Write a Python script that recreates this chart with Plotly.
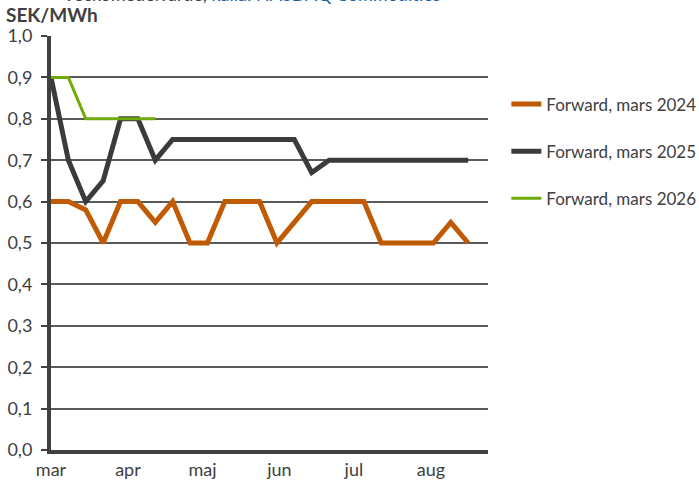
import pandas as pd
import plotly.graph_objects as go

# Weekly forward prices, SEK/MWh
weeks = pd.date_range("2023-03-01", periods=25, freq="7D")

fwd_2024 = [0.60, 0.60, 0.58, 0.50, 0.60, 0.60, 0.55, 0.60, 0.50, 0.50,
            0.60, 0.60, 0.60, 0.50, 0.55, 0.60, 0.60, 0.60, 0.60, 0.50,
            0.50, 0.50, 0.50, 0.55, 0.50]
fwd_2025 = [0.90, 0.70, 0.60, 0.65, 0.80, 0.80, 0.70, 0.75, 0.75, 0.75,
            0.75, 0.75, 0.75, 0.75, 0.75, 0.67, 0.70, 0.70, 0.70, 0.70,
            0.70, 0.70, 0.70, 0.70, 0.70]
fwd_2026 = [0.90, 0.90, 0.80, 0.80, 0.80, 0.80, 0.80]

series_names = ["Forward, mars 2024", "Forward, mars 2025", "Forward, mars 2026"]
series_colors = ["#C05A05", "#3B3B3B", "#6EAA0A"]
series_widths = [5, 5, 3]

month_ticks = pd.date_range("2023-03-01", periods=6, freq="MS")
month_labels = ["mar", "apr", "maj", "jun", "jul", "aug"]

FONT = "Lato"
TXT = "#404040"

fig = go.Figure()
for i, (name, vals) in enumerate(zip(series_names, [fwd_2024, fwd_2025, fwd_2026])):
    fig.add_trace(go.Scatter(
        x=weeks[:len(vals)], y=vals, mode="lines", name=name,
        legendgroup=name,
        line=dict(color=series_colors[i], width=series_widths[i]),
    ))

fig.update_layout(
    width=699, height=488,
    margin=dict(l=51, r=211, t=36, b=38, autoexpand=False),
    paper_bgcolor="white", plot_bgcolor="white",
    separators=",.",
    font=dict(family=FONT, color=TXT, size=18),
    showlegend=True,
    legend=dict(
        x=1.042, y=0.878, xanchor="left", yanchor="top",
        font=dict(family=FONT, size=17, color=TXT),
        traceorder="grouped", tracegroupgap=22,
        bgcolor="rgba(0,0,0,0)",
    ),
    xaxis=dict(
        range=[pd.Timestamp("2023-03-01"), pd.Timestamp("2023-08-24")],
        tickvals=month_ticks, ticktext=month_labels,
        showgrid=False, zeroline=False, automargin=False,
        showline=True, linecolor="#404040", linewidth=4,
        ticks="", tickfont=dict(size=18, color=TXT),
    ),
    yaxis=dict(
        range=[0, 1.0], dtick=0.1, tickformat=".1f",
        showgrid=True, gridcolor="#5A5A5A", gridwidth=2,
        zeroline=False, automargin=False,
        showline=True, linecolor="#404040", linewidth=4,
        ticks="outside", ticklen=6, tickwidth=2, tickcolor="#404040",
        ticklabelstandoff=5,
        tickfont=dict(size=18, color=TXT),
    ),
)

fig.add_annotation(
    xref="paper", yref="paper", x=-0.107, y=1.051,
    xanchor="left", yanchor="middle", showarrow=False,
    text="<b>SEK/MWh</b>", font=dict(family=FONT, size=19, color=TXT),
)
fig.add_annotation(
    xref="paper", yref="paper", x=0.022, y=1.07,
    xanchor="left", yanchor="bottom", showarrow=False,
    text="Veckomedelvärde, <span style='color:#2060A8'>källa: NASDAQ Commodities</span>",
    font=dict(family=FONT, size=18, color=TXT),
)

fig.write_html("out.html")
